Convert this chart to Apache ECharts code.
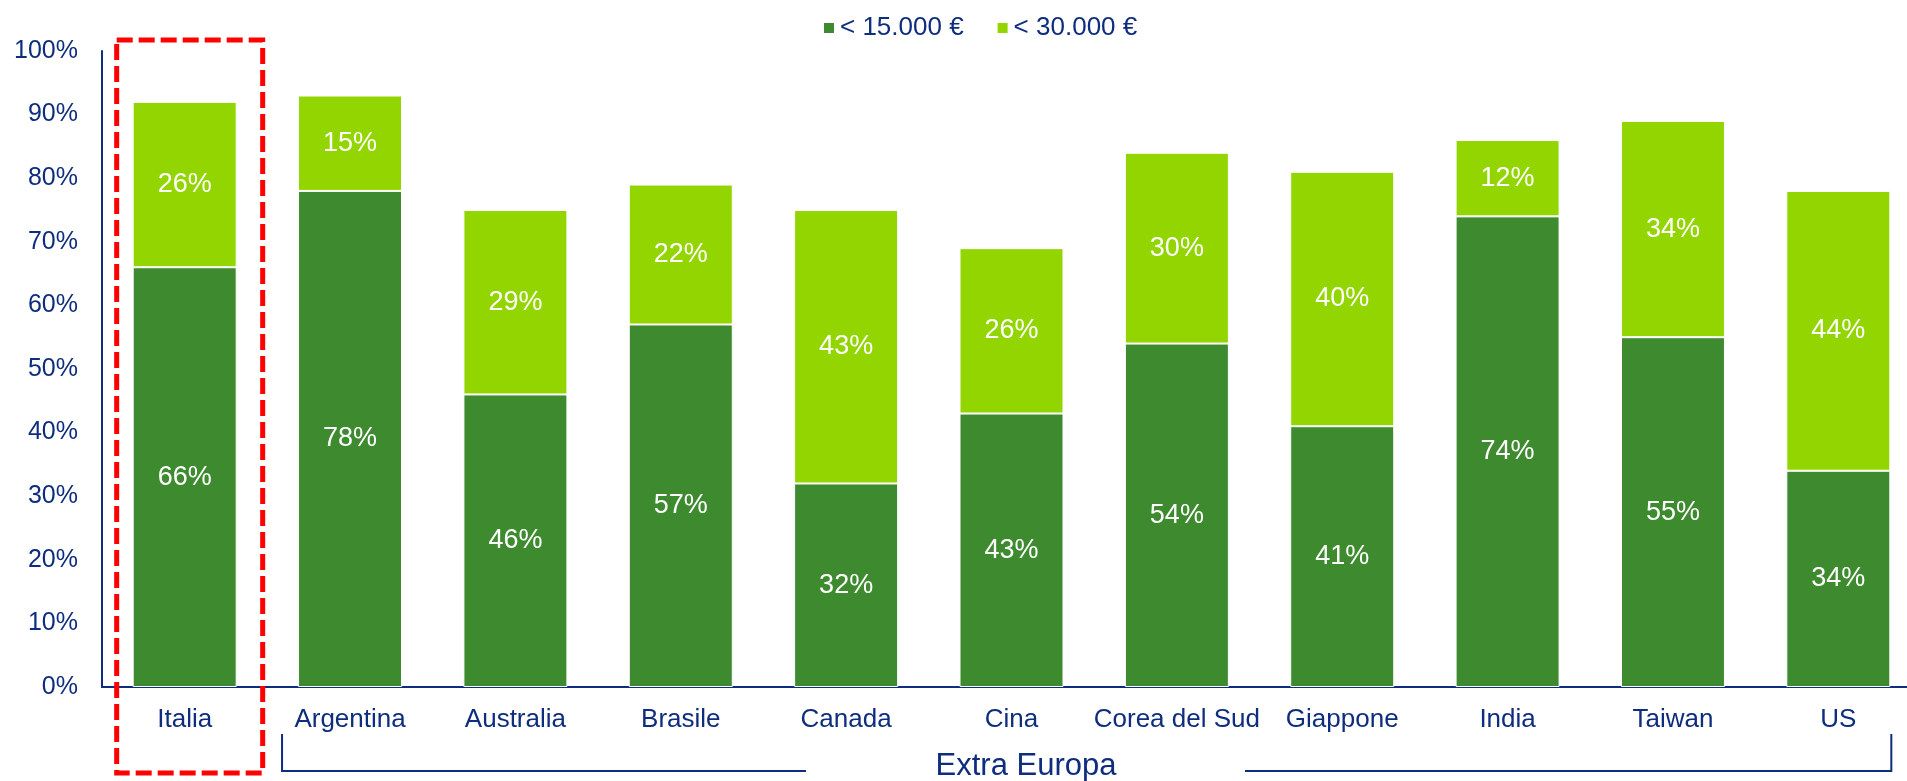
<!DOCTYPE html>
<html>
<head>
<meta charset="utf-8">
<script src="https://cdn.jsdelivr.net/npm/echarts@6/dist/echarts.min.js"></script>
<style>
	html, body { margin: 0; padding: 0; background: #fff; }
	#charts { width: 1907px; height: 781px; }
</style>
</head>
<body>
<div id="charts"></div>
<script>
var paesi = ['Italia', 'Argentina', 'Australia', 'Brasile', 'Canada', 'Cina', 'Corea del Sud', 'Giappone', 'India', 'Taiwan', 'US'];
var sotto15 = [66, 78, 46, 57, 32, 43, 54, 41, 74, 55, 34];
var sotto30 = [26, 15, 29, 22, 43, 26, 30, 40, 12, 34, 44];
var serieNomi = ['< 15.000 €', '< 30.000 €'];
var yTicks = [0, 10, 20, 30, 40, 50, 60, 70, 80, 90, 100];

var navy = '#0f2d7e';
var font = 'Liberation Sans, Arial, sans-serif';

var myChart = echarts.init(document.getElementById('charts'));

//etichette dentro le barre
function lbl() {
	return {
		show: true,
		position: 'inside',
		color: '#fff',
		fontSize: 27,
		fontFamily: font,
		formatter: '{c}%'
	};
}

var option = {
	animation: false,
	textStyle: { fontFamily: font },
	legend: {
		data: serieNomi,
		left: 817,
		top: 10,
		icon: 'rect',
		itemWidth: 12,
		itemHeight: 12,
		itemGap: 32,
		textStyle: { color: navy, fontSize: 26, fontFamily: font }
	},
	grid: { left: 102, top: 51, width: 1819, height: 636, outerBoundsMode: 'none', containLabel: false },
	xAxis: {
		type: 'category',
		data: paesi,
		axisLine: { lineStyle: { color: navy, width: 2 } },
		axisTick: { show: false },
		axisLabel: { color: navy, fontSize: 26, fontFamily: font, margin: 20, interval: 0 }
	},
	yAxis: {
		type: 'value',
		min: yTicks[0],
		max: yTicks[yTicks.length - 1],
		interval: yTicks[1] - yTicks[0],
		axisLine: { show: true, lineStyle: { color: navy, width: 2 } },
		axisTick: { show: false },
		splitLine: { show: false },
		axisLabel: { color: navy, fontSize: 25, fontFamily: font, margin: 24, padding: [5, 0, 0, 0], formatter: '{value}%' }
	},
	series: [
		{
			name: serieNomi[0],
			type: 'bar',
			stack: 'tot',
			barWidth: 104,
			data: sotto15,
			itemStyle: { color: '#3d8a2f', borderColor: '#fff', borderWidth: 1 },
			label: lbl()
		},
		{
			name: serieNomi[1],
			type: 'bar',
			stack: 'tot',
			barWidth: 104,
			data: sotto30,
			itemStyle: { color: '#93d500', borderColor: '#fff', borderWidth: 1 },
			label: lbl()
		}
	]
};

myChart.setOption(option);

//riquadro rosso e parentesi "Extra Europa", posizionati dagli assi
var xIt = myChart.convertToPixel({ xAxisIndex: 0 }, paesi[0]);
var xAr = myChart.convertToPixel({ xAxisIndex: 0 }, paesi[1]);
var xUs = myChart.convertToPixel({ xAxisIndex: 0 }, paesi[paesi.length - 1]);
var yTop = myChart.convertToPixel({ yAxisIndex: 0 }, 100);
var yZero = myChart.convertToPixel({ yAxisIndex: 0 }, 0);

var bx1 = xAr - 68, bx2 = xUs + 53, by1 = yZero + 47, by2 = yZero + 84;
var testoX = 1026;

myChart.setOption({
	graphic: [
		{
			type: 'rect',
			shape: { x: xIt - 68, y: yTop - 11, width: 146, height: yZero + 86 - (yTop - 11) },
			style: { fill: 'none', stroke: '#ff0000', lineWidth: 5, lineDash: [16, 6] },
			z: 100
		},
		{
			type: 'polyline',
			shape: { points: [[bx1, by1], [bx1, by2], [806, by2]] },
			style: { fill: 'none', stroke: navy, lineWidth: 2 }
		},
		{
			type: 'polyline',
			shape: { points: [[1245, by2], [bx2, by2], [bx2, by1]] },
			style: { fill: 'none', stroke: navy, lineWidth: 2 }
		},
		{
			type: 'text',
			x: testoX,
			y: yZero + 79,
			style: { text: 'Extra Europa', fill: navy, fontSize: 31, fontFamily: font, align: 'center', verticalAlign: 'middle' }
		}
	]
});
</script>
</body>
</html>
